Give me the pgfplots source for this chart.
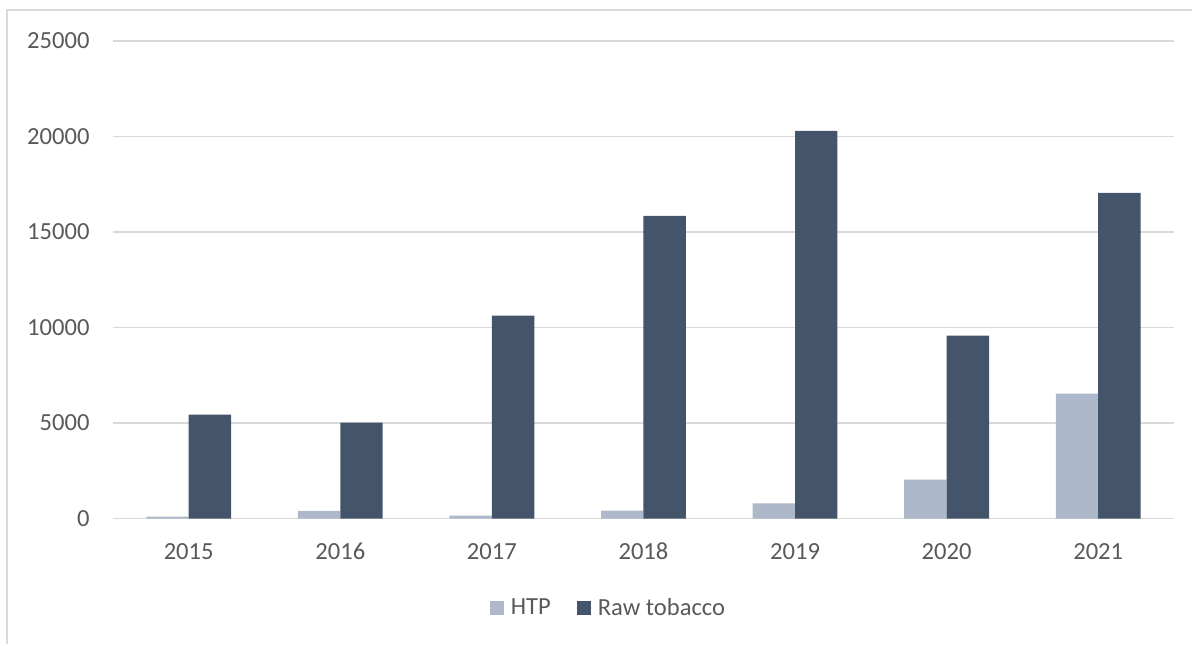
\documentclass[border=0pt]{standalone}
\usepackage{pgfplots}
\pgfplotsset{compat=1.18}
\usepackage{fontspec}
\setmainfont{Carlito}
\definecolor{htp}{HTML}{ADB9CA}
\definecolor{raw}{HTML}{44546A}
\definecolor{txt}{HTML}{595959}
\definecolor{grd}{HTML}{D9D9D9}
\begin{document}
\begin{tikzpicture}
\path (0,0) rectangle (596.5pt,322.5pt);
\draw[grd, line width=1pt] (3.5pt,0) -- (3.5pt,317.5pt) -- (596.5pt,317.5pt);
\begin{axis}[
  at={(56.5pt,63pt)}, anchor=south west,
  scale only axis,
  width=531pt, height=239pt,
  xmin=-0.5, xmax=6.5, ymin=0, ymax=25000,
  xtick=data,
  xticklabels={2015,2016,2017,2018,2019,2020,2021},
  ytick={0,5000,10000,15000,20000,25000},
  axis line style={draw=none},
  axis x line*=bottom,
  major tick length=0pt,
  ymajorgrids, grid style={grd, line width=0.75pt},
  extra y ticks={0}, extra y tick style={grid style={grd,line width=0.75pt}},
  extra y tick labels={},
  scaled y ticks=false,
  /pgf/number format/.cd, 1000 sep={}, assume math mode=true, /pgfplots/.cd,
  tick label style={font=\fontsize{12.3}{14}\selectfont, text=txt},
  y tick label style={anchor=east, inner sep=0pt, xshift=-11.5pt},
  x tick label style={anchor=base, inner sep=0pt, yshift=-20.5pt},
  ybar, bar width=0.28,
  legend style={at={(rel axis cs:0.468,-0.188)}, anchor=center, draw=none, fill=none,
    legend columns=2, font=\fontsize{12.3}{14}\selectfont, text=txt,
    /tikz/every even column/.append style={column sep=11pt},
    legend cell align=left},
  legend image code/.code={\fill[#1] (0pt,-3.5pt) rectangle (7pt,3.5pt); \path (8.5pt,0);},
]
\addplot[fill=htp, draw=none, bar shift=-0.14] coordinates {(0,100) (1,400) (2,150) (3,420) (4,790) (5,2040) (6,6540)};
\addplot[fill=raw, draw=none, bar shift=0.14] coordinates {(0,5440) (1,5020) (2,10620) (3,15850) (4,20290) (5,9570) (6,17050)};
\legend{HTP, Raw tobacco}
\end{axis}
\end{tikzpicture}
\end{document}
